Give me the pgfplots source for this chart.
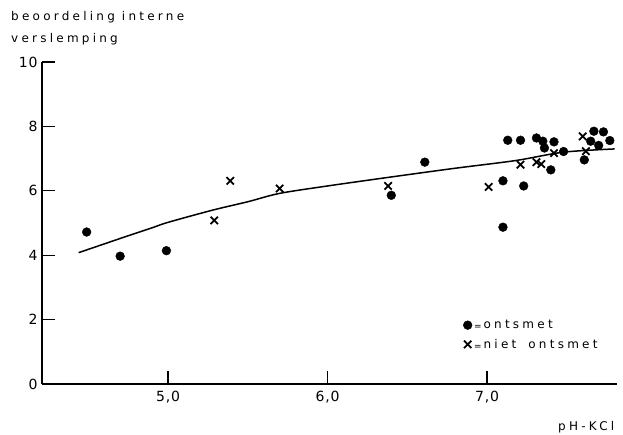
\documentclass[border=0pt]{standalone}
\usepackage{pgfplots}
\pgfplotsset{compat=1.18}
\usepackage{fontspec}
\setmainfont{DejaVu Sans}[LetterSpace=27]
\newfontfamily\tickfont{DejaVu Sans}[LetterSpace=6]
\pgfplotsset{mylegimg/.style={legend image code/.code={\draw[##1] plot coordinates {(0.15cm,0cm)};}}}
\begin{document}
\begin{tikzpicture}[font=\fontsize{12bp}{14bp}\selectfont]
\useasboundingbox (-42bp,-51bp) rectangle (581bp,384bp);
\begin{axis}[
  scale only axis, width=575bp, height=322bp,
  xmin=4.21, xmax=7.815, ymin=0, ymax=10,
  axis lines=left,
  axis line style={-, line width=1.6bp},
  xtick={5,6,7}, xticklabels={{5,0},{6,0},{7,0}},
  ytick={0,2,4,6,8,10},
  tick align=inside, major tick length=13bp,
  tick style={line width=1.3bp, black},
  /pgf/number format/assume math mode=true,
  tick label style={font=\tickfont\fontsize{14bp}{16bp}\selectfont},
  xticklabel style={yshift=-4bp},
  yticklabel style={xshift=-1bp},
  clip=false,
  legend style={draw=none, fill=none, at={(axis cs:6.85,2.05)}, anchor=north west, row sep=5bp, inner sep=0pt},
  legend cell align=left,
]
\addplot[black, line width=1.5bp, smooth, forget plot] coordinates {
(4.44,4.08)(4.6,4.35)(4.76,4.62)(4.9,4.85)(5.0,5.02)(5.28,5.40)(5.5,5.66)(5.70,5.92)(6.0,6.15)(6.4,6.43)(6.8,6.70)(7.18,6.94)(7.48,7.20)(7.80,7.30)};
\addplot[only marks, mark=*, mark size=4.4bp, black, mylegimg] coordinates {
(4.49,4.72)(4.70,3.97)(4.99,4.14)(6.61,6.89)(6.40,5.86)(7.10,6.31)(7.10,4.87)(7.23,6.15)(7.13,7.57)(7.21,7.57)(7.31,7.64)(7.35,7.54)(7.36,7.33)(7.42,7.52)(7.40,6.65)(7.48,7.22)(7.67,7.85)(7.73,7.83)(7.65,7.54)(7.70,7.41)(7.77,7.56)(7.61,6.96)};
\addlegendentry{\raisebox{-1bp}{\small=}\,ontsmet}
\addplot[only marks, mark=x, mark size=5.2bp, line width=1.8bp, black, mylegimg] coordinates {
(5.29,5.08)(5.39,6.31)(5.70,6.07)(6.38,6.15)(7.01,6.12)(7.21,6.81)(7.31,6.89)(7.34,6.83)(7.42,7.17)(7.60,7.69)(7.62,7.23)};
\addlegendentry{\raisebox{-1bp}{\small=}\,niet\hspace{5bp} ontsmet}
\end{axis}
\node[anchor=base west, inner sep=0pt] at (-31bp,363bp) {beoordeling interne};
\node[anchor=base west, inner sep=0pt] at (-31bp,341bp) {verslemping};
\node[anchor=base west, inner sep=0pt] at (516bp,-46bp) {pH-KCl};
\end{tikzpicture}
\end{document}
